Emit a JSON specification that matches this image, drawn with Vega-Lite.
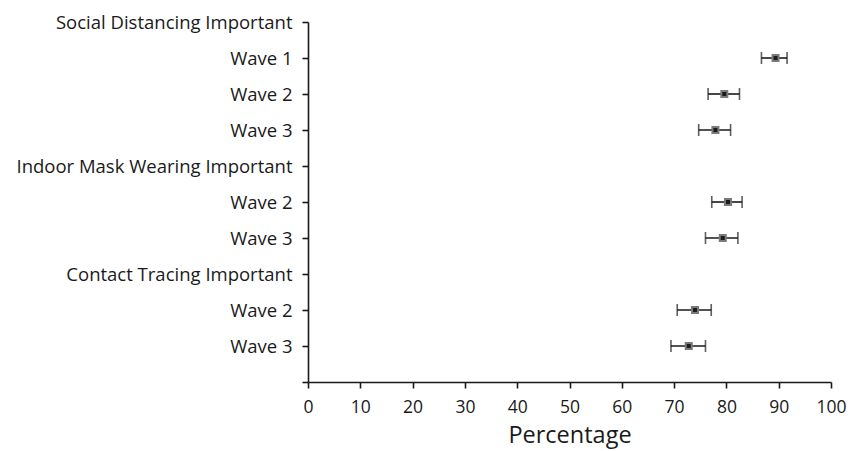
{
  "$schema": "https://vega.github.io/schema/vega-lite/v6.json",
  "width": 523,
  "height": 360,
  "autosize": {"type": "none"},
  "padding": {"left": 308, "top": 22, "right": 20, "bottom": 69},
  "background": "white",
  "config": {
    "view": {"stroke": null},
    "font": "Open Sans",
    "axis": {
      "domainColor": "#1a1a1a",
      "domainWidth": 1.6,
      "tickColor": "#1a1a1a",
      "tickWidth": 1.6,
      "tickSize": 6,
      "labelColor": "#1a1a1a",
      "labelFont": "Open Sans",
      "labelLimit": 400,
      "titleColor": "#1a1a1a",
      "titleFont": "Open Sans",
      "grid": false
    }
  },
  "data": {
    "values": [
      {"row": "Wave 1|sd1", "pct": 89.4, "lo": 86.7, "hi": 91.6},
      {"row": "Wave 2|sd2", "pct": 79.6, "lo": 76.5, "hi": 82.5},
      {"row": "Wave 3|sd3", "pct": 77.9, "lo": 74.7, "hi": 80.8},
      {"row": "Wave 2|mw2", "pct": 80.3, "lo": 77.2, "hi": 83.0},
      {"row": "Wave 3|mw3", "pct": 79.3, "lo": 76.0, "hi": 82.2},
      {"row": "Wave 2|ct2", "pct": 74.0, "lo": 70.6, "hi": 77.1},
      {"row": "Wave 3|ct3", "pct": 72.8, "lo": 69.4, "hi": 76.0}
    ]
  },
  "encoding": {
    "y": {
      "field": "row",
      "type": "ordinal",
      "scale": {
        "type": "point",
        "padding": 0,
        "domain": [
          "Social Distancing Important|sd",
          "Wave 1|sd1",
          "Wave 2|sd2",
          "Wave 3|sd3",
          "Indoor Mask Wearing Important|mw",
          "Wave 2|mw2",
          "Wave 3|mw3",
          "Contact Tracing Important|ct",
          "Wave 2|ct2",
          "Wave 3|ct3",
          "|end"
        ]
      },
      "axis": {
        "title": null,
        "labelExpr": "split(datum.label, '|')[0]",
        "labelFontSize": 18.5,
        "labelPadding": 10
      }
    }
  },
  "layer": [
    {
      "mark": {"type": "rule", "color": "#1a1a1a", "strokeWidth": 1.6},
      "encoding": {
        "x": {
          "field": "lo",
          "type": "quantitative",
          "scale": {"domain": [0, 100], "nice": false},
          "axis": {
            "title": "Percentage",
            "titleFontSize": 23.5,
            "titleFontWeight": "normal",
            "titlePadding": 8,
            "values": [0, 10, 20, 30, 40, 50, 60, 70, 80, 90, 100],
            "labelFontSize": 17.5,
            "labelPadding": 10,
            "labelFlush": false
          }
        },
        "x2": {"field": "hi"}
      }
    },
    {
      "mark": {"type": "tick", "color": "#1a1a1a", "thickness": 1.6, "size": 12},
      "encoding": {"x": {"field": "lo", "type": "quantitative"}}
    },
    {
      "mark": {"type": "tick", "color": "#1a1a1a", "thickness": 1.6, "size": 12},
      "encoding": {"x": {"field": "hi", "type": "quantitative"}}
    },
    {
      "mark": {
        "type": "square",
        "size": 36,
        "filled": true,
        "fill": "#1c1c1c",
        "stroke": "#7a7a7a",
        "strokeWidth": 2,
        "opacity": 1
      },
      "encoding": {"x": {"field": "pct", "type": "quantitative"}}
    }
  ]
}
